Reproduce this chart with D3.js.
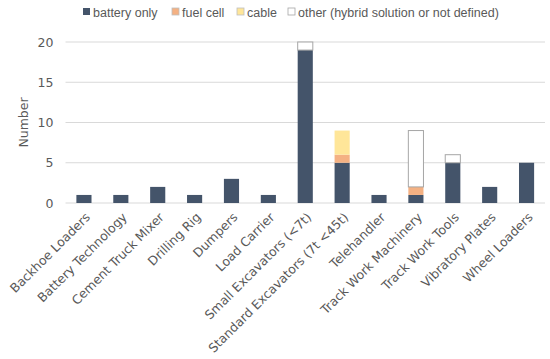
<!DOCTYPE html>
<html><head><meta charset="utf-8">
<script src="https://cdn.jsdelivr.net/npm/d3@7/dist/d3.min.js"></script>
<style>body{margin:0;background:#fff}svg{display:block}
.v{font-family:"DejaVu Sans",Verdana,sans-serif}
.a{font-family:"Liberation Sans",Arial,sans-serif}</style>
</head><body><svg id="c" width="550" height="359"></svg>
<script>
const categories = ["Backhoe Loaders","Battery Technology","Cement Truck Mixer","Drilling Rig","Dumpers","Load Carrier","Small Excavators (<7t)","Standard Excavators (7t <45t)","Telehandler","Track Work Machinery","Track Work Tools","Vibratory Plates","Wheel Loaders"];
const batteryOnly = [1,1,2,1,3,1,19,5,1,1,5,2,5];
const fuelCell    = [0,0,0,0,0,0,0,1,0,1,0,0,0];
const cable       = [0,0,0,0,0,0,0,3,0,0,0,0,0];
const other       = [0,0,0,0,0,0,1,0,0,7,1,0,0];
const seriesNames = ["battery only","fuel cell","cable","other (hybrid solution or not defined)"];
const seriesColors = ["#44546A","#F4B183","#FFE699","#FFFFFF"];
const yTicks = [0,5,10,15,20];

(function(){
const svg = d3.select("#c");
const pl = 65.5, pr = 545, pt = 42, pb = 203;
const x = d3.scaleBand().domain(categories).range([pl,pr]).paddingInner(0.59).paddingOuter(0.295);
const y = d3.scaleLinear().domain([0,20]).range([pb,pt]);

svg.append("g").selectAll("line").data(yTicks).join("line")
  .attr("x1",pl).attr("x2",pr).attr("y1",d=>y(d)).attr("y2",d=>y(d))
  .attr("stroke","#D9D9D9").attr("stroke-width",1);

const yAxis = d3.axisLeft(y).tickValues(yTicks).tickSize(0).tickPadding(0);
const ya = svg.append("g").attr("transform",`translate(${pl-12},0)`).call(yAxis);
ya.attr("font-family",null).attr("font-size",null).attr("class","v");
ya.select(".domain").remove();
ya.selectAll("text").style("font-size","12.5px").attr("fill","#595959");

svg.append("text").attr("class","v").attr("transform",`translate(28,${(pt+pb)/2}) rotate(-90)`)
  .attr("text-anchor","middle").style("font-size","12.5px").attr("fill","#595959").text("Number");

const data = categories.map((c,i)=>({cat:c, v:[batteryOnly[i],fuelCell[i],cable[i],other[i]]}));
const stack = d3.stack().keys([0,1,2,3]).value((d,k)=>d.v[k]);
const layers = stack(data);
svg.append("g").selectAll("g").data(layers).join("g")
  .attr("fill",(d,i)=>seriesColors[i])
  .attr("stroke",(d,i)=>i===3?"#A6A6A6":"none")
  .selectAll("rect").data(d=>d.filter(p=>p[1]>p[0])).join("rect")
  .attr("x",d=>x(d.data.cat)).attr("width",x.bandwidth())
  .attr("y",d=>y(d[1])).attr("height",d=>y(d[0])-y(d[1]));

const xa = svg.append("g").attr("transform",`translate(0,${pb})`)
  .call(d3.axisBottom(x).tickSize(0).tickPadding(0));
xa.attr("font-family",null).attr("font-size",null).attr("class","v");
xa.select(".domain").remove();
xa.selectAll("text").style("font-size","12.5px")
  .attr("fill","#595959").attr("text-anchor","end").attr("dy",null)
  .attr("transform","translate(7,15) rotate(-45)");

const legX = [83,172,237,288];
const lg = svg.append("g").attr("class","a").style("font-size","12.5px").attr("fill","#595959");
seriesNames.forEach((n,i)=>{
  lg.append("rect").attr("x",legX[i]).attr("y",8).attr("width",7).attr("height",7)
    .attr("fill",seriesColors[i]).attr("stroke",i===3?"#A6A6A6":(i===0?"none":"#BFBFBF")).attr("stroke-width",0.8);
  lg.append("text").attr("x",legX[i]+10).attr("y",16.5).text(n);
});
})();
</script></body></html>
